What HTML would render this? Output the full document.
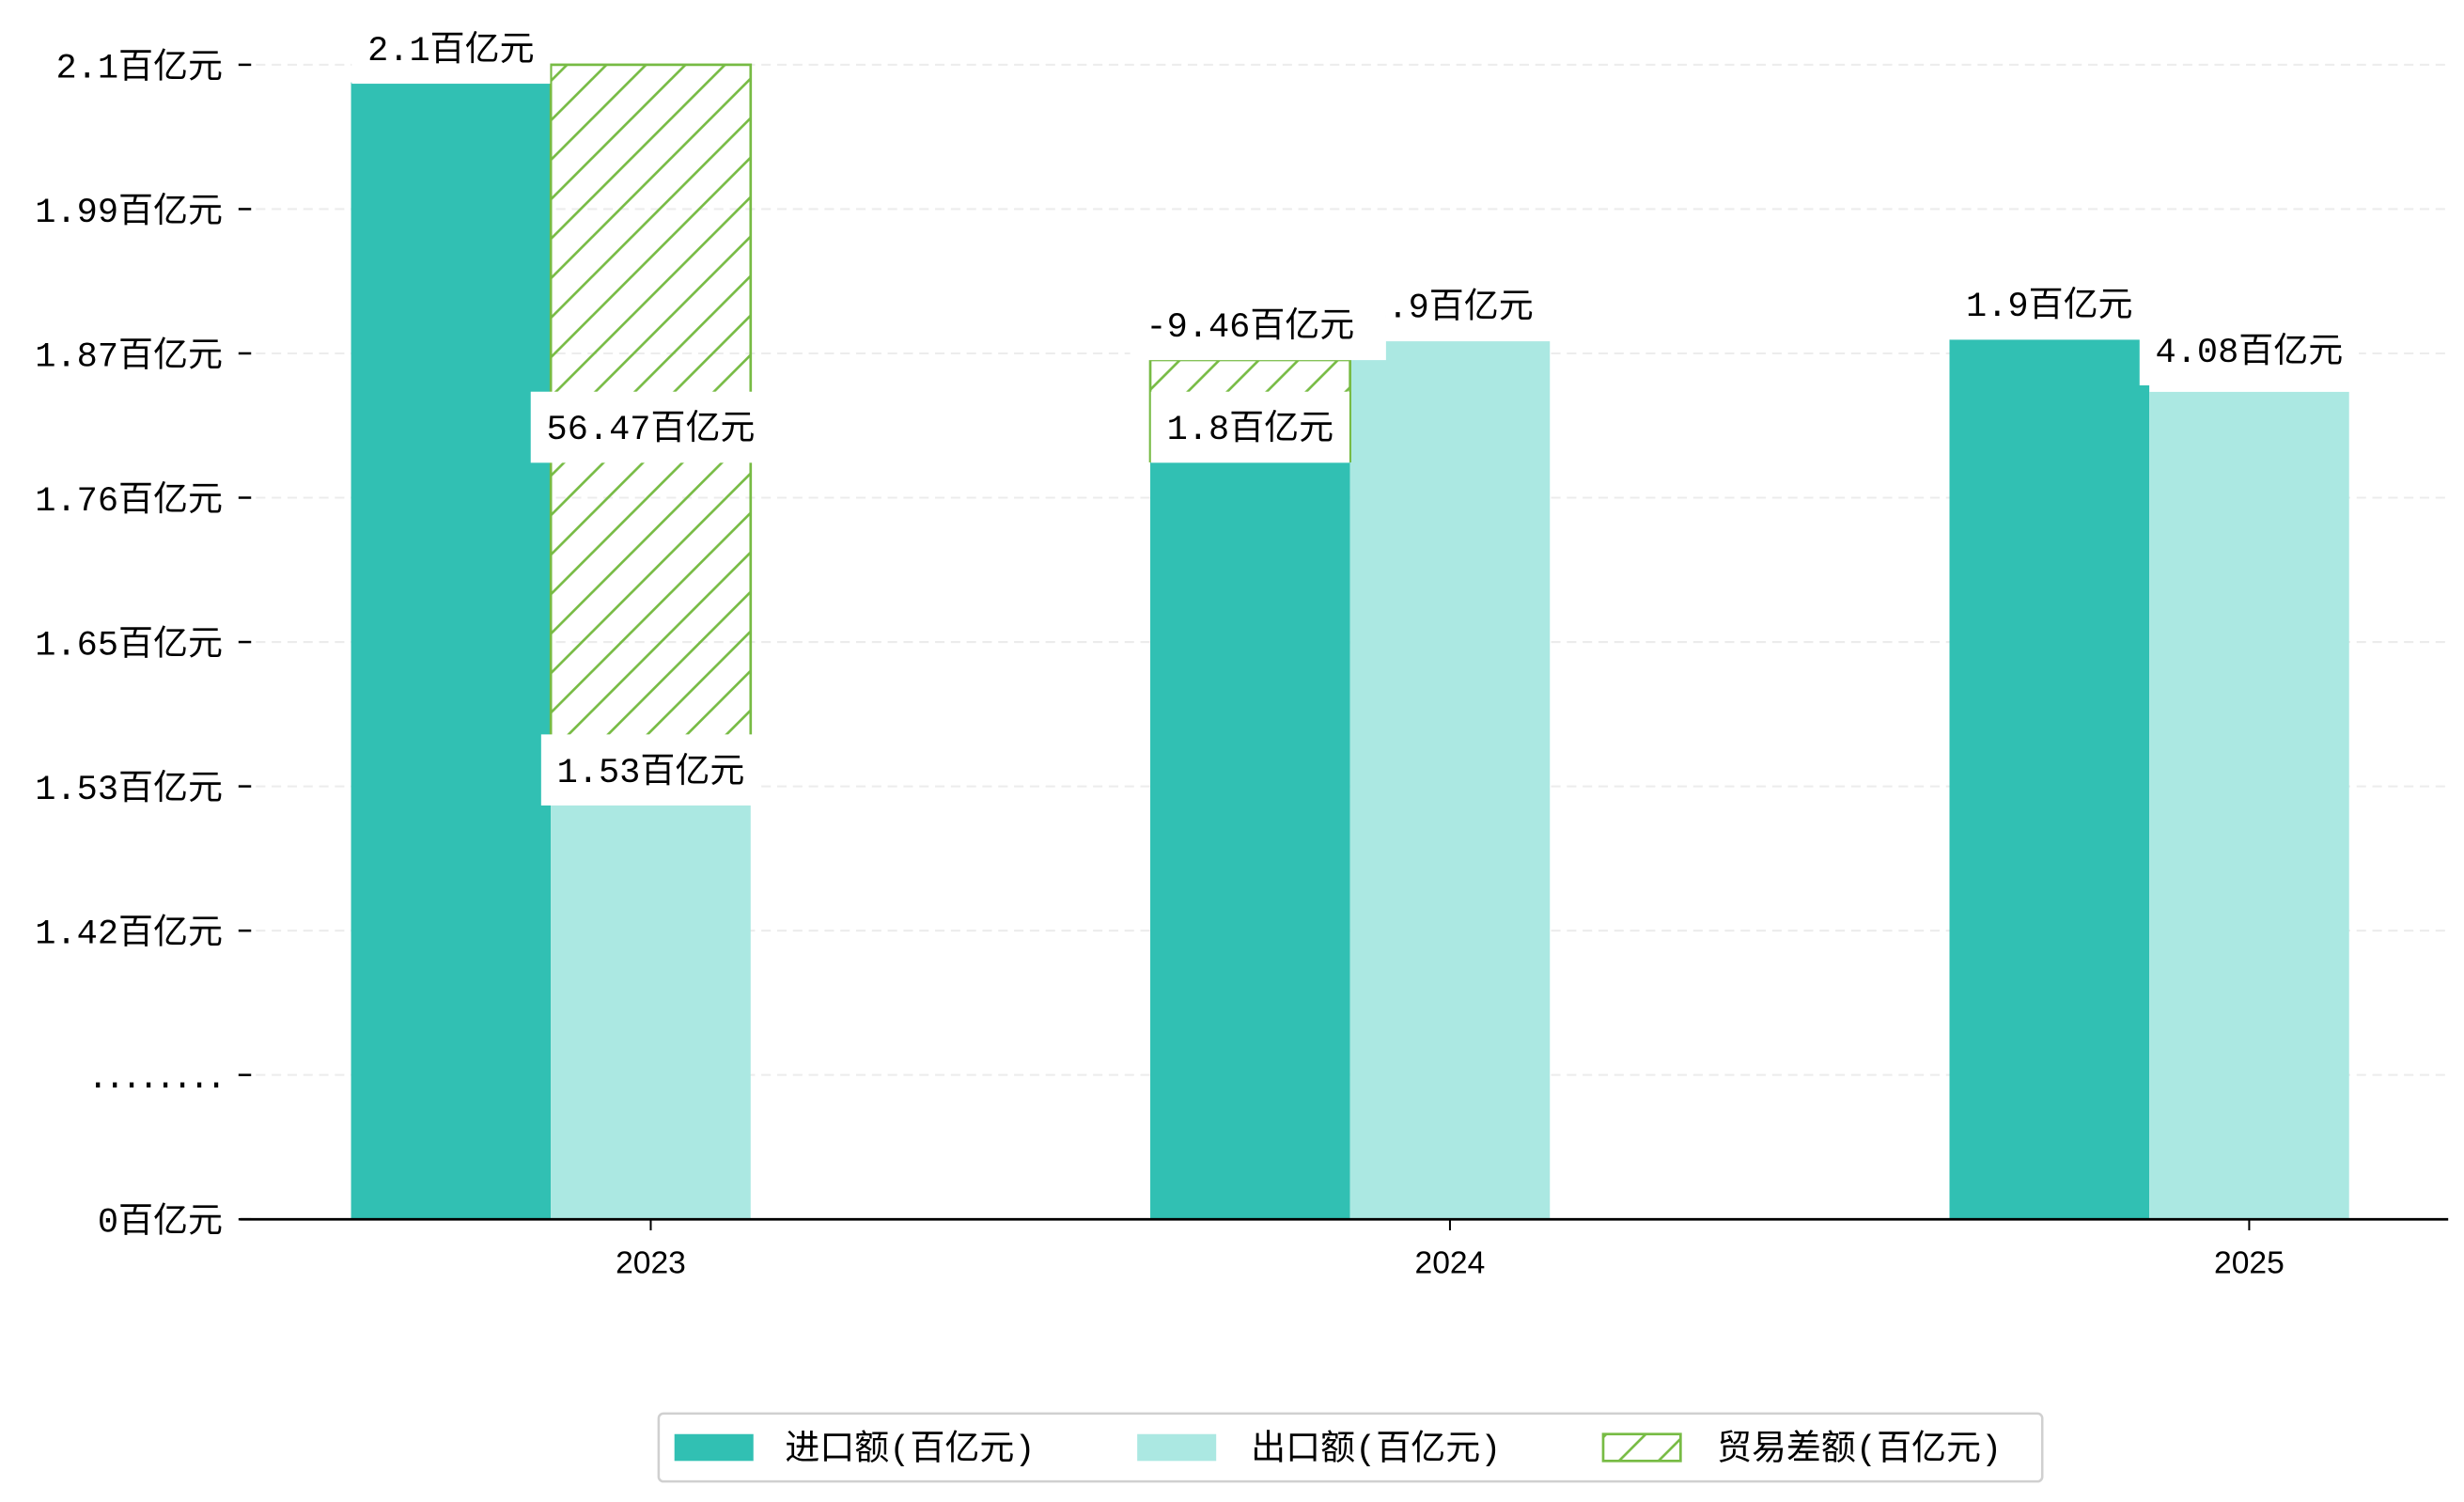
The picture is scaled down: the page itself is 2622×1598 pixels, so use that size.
<!DOCTYPE html>
<html><head><meta charset="utf-8"><style>
html,body{margin:0;padding:0;background:#fff;}
svg{display:block;font-family:"Liberation Mono","Noto Sans CJK SC",monospace;}
</style></head><body>
<svg id="chart" width="2622" height="1598" viewBox="0 0 1560 951" preserveAspectRatio="none" xmlns="http://www.w3.org/2000/svg">
<defs>
<pattern id="hatch" patternUnits="userSpaceOnUse" width="25" height="25">
<line x1="0" y1="25" x2="25" y2="0" stroke="#77bb44" stroke-width="1.6"/>
<line x1="-5" y1="5" x2="5" y2="-5" stroke="#77bb44" stroke-width="1.6"/>
<line x1="20" y1="30" x2="30" y2="20" stroke="#77bb44" stroke-width="1.6"/>
</pattern>
</defs>
<g id="grid"></g>
<g id="bars"></g>
<g id="labels"></g>
<g id="axes"></g>
<g id="legend">
<rect x="417" y="895" width="876" height="43" rx="3" fill="#fff" stroke="#d0d0d0" stroke-width="1.5"/>
<rect x="427" y="908" width="50" height="17" fill="#31c0b3"/>
<text x="497" y="924" font-size="22">进口额(百亿元)</text>
<rect x="720" y="908" width="50" height="17" fill="#abe8e2"/>
<text x="792" y="924" font-size="22">出口额(百亿元)</text>
<rect x="1015" y="908" width="49" height="17" fill="url(#hatch)" stroke="#77bb44" stroke-width="1.6"/>
<text x="1087" y="924" font-size="22">贸易差额(百亿元)</text>
</g>
</svg>
<script>
const categories = ["2023", "2024", "2025"];
const importValues = [2.068, 1.379, 1.600];
const exportValues = [0.756, 1.597, 1.505];
const balanceTop = [2.1, 1.563, null];
const balanceBase = [0.756, 1.379, null];
const importLabels = ["2.1百亿元", "1.8百亿元", "1.9百亿元"];
const exportLabels = ["1.53百亿元", "1.9百亿元", "4.08百亿元"];
const balanceLabels = ["56.47百亿元", "-9.46百亿元", null];
const tickLabels = ["0百亿元", "........", "1.42百亿元", "1.53百亿元", "1.65百亿元", "1.76百亿元", "1.87百亿元", "1.99百亿元", "2.1百亿元"];

const NS = "http://www.w3.org/2000/svg";
const X0 = 152, X1 = 1550, Y0 = 772, Y1 = 41, YMAX = 2.1;
function y(v){ return Y0 - (v / YMAX) * (Y0 - Y1); }
function xc(i){ return 412 + i * 506; }
const BW = 126.5;
function mk(tag, attrs, parent){
  const e = document.createElementNS(NS, tag);
  for (const k in attrs) e.setAttribute(k, attrs[k]);
  parent.appendChild(e);
  return e;
}
const grid = document.getElementById('grid');
const bars = document.getElementById('bars');
const labels = document.getElementById('labels');
const axes = document.getElementById('axes');

tickLabels.forEach((t, i) => {
  const v = i * YMAX / (tickLabels.length - 1);
  const yy = y(v);
  if (i > 0) {
    const g = mk('line', {x1: X0, x2: X1, y1: yy, y2: yy, stroke: '#ececec', 'stroke-width': 1.2, 'stroke-dasharray': '6,4'}, grid);
    
    
  }
  const tk = mk('line', {x1: 151, x2: 159, y1: yy, y2: yy, stroke: '#000', 'stroke-width': 1.5}, axes);
  
  
  const tl = mk('text', {x: 141, y: yy + 8, 'text-anchor': 'end', 'font-size': 22, 'letter-spacing': t.length > 7 ? -2.5 : 0}, axes);
  tl.textContent = t;
  
  
});

function labelBox(text, cx, cy, box, padR){
  const t = mk('text', {x: cx, y: cy + 8, 'text-anchor': 'middle', 'font-size': 22}, labels);
  t.textContent = text;
  
  
  if (box) {
    const b = t.getBBox();
    const pr = padR || 10;
    const r = document.createElementNS(NS, 'rect');
    r.setAttribute('x', b.x - 10);
    r.setAttribute('y', cy - 22);
    r.setAttribute('width', b.width + 10 + pr);
    r.setAttribute('height', 45);
    r.setAttribute('fill', '#fff');
    
    
    labels.insertBefore(r, t);
  }
}

categories.forEach((c, i) => {
  const cx = xc(i);
  const ix = cx - BW / 2 - BW, ex = cx - BW / 2;
  const ib = mk('rect', {x: ix, y: y(importValues[i]), width: BW, height: Y0 - y(importValues[i]), fill: '#31c0b3'}, bars);
  
  
  const eb = mk('rect', {x: ex, y: y(exportValues[i]), width: BW, height: Y0 - y(exportValues[i]), fill: '#abe8e2'}, bars);
  
  
  if (balanceTop[i] !== null) {
    const bx = i === 0 ? ex : ix;
    const hb = mk('rect', {x: bx, y: y(balanceTop[i]), width: BW, height: y(balanceBase[i]) - y(balanceTop[i]), fill: 'url(#hatch)', stroke: '#77bb44', 'stroke-width': 1.6}, bars);
    
    
  }
  const xt = mk('line', {x1: cx, x2: cx, y1: Y0, y2: Y0 + 7, stroke: '#000', 'stroke-width': 1.2}, axes);
  
  
  const xl = mk('text', {x: cx, y: 806, 'text-anchor': 'middle', 'font-size': 20, 'font-family': '"Liberation Sans",sans-serif'}, axes);
  xl.textContent = c;
  
  
});

const IC = i => xc(i) - BW, EC = i => xc(i);
labelBox(importLabels[0], IC(0), 30, true);
labelBox(balanceLabels[0], EC(0), 270, true);
labelBox(exportLabels[0], EC(0), 487, true);
labelBox(exportLabels[1], EC(1), 193, false);
labelBox(balanceLabels[1], IC(1), 205, true, 20);
labelBox(importLabels[1], IC(1), 270, true);
labelBox(importLabels[2], IC(2), 192, true);
labelBox(exportLabels[2], EC(2), 221, true);

const ax = mk('line', {x1: X0, x2: X1, y1: Y0, y2: Y0, stroke: '#000', 'stroke-width': 1.6}, axes);


</script>
</body></html>
